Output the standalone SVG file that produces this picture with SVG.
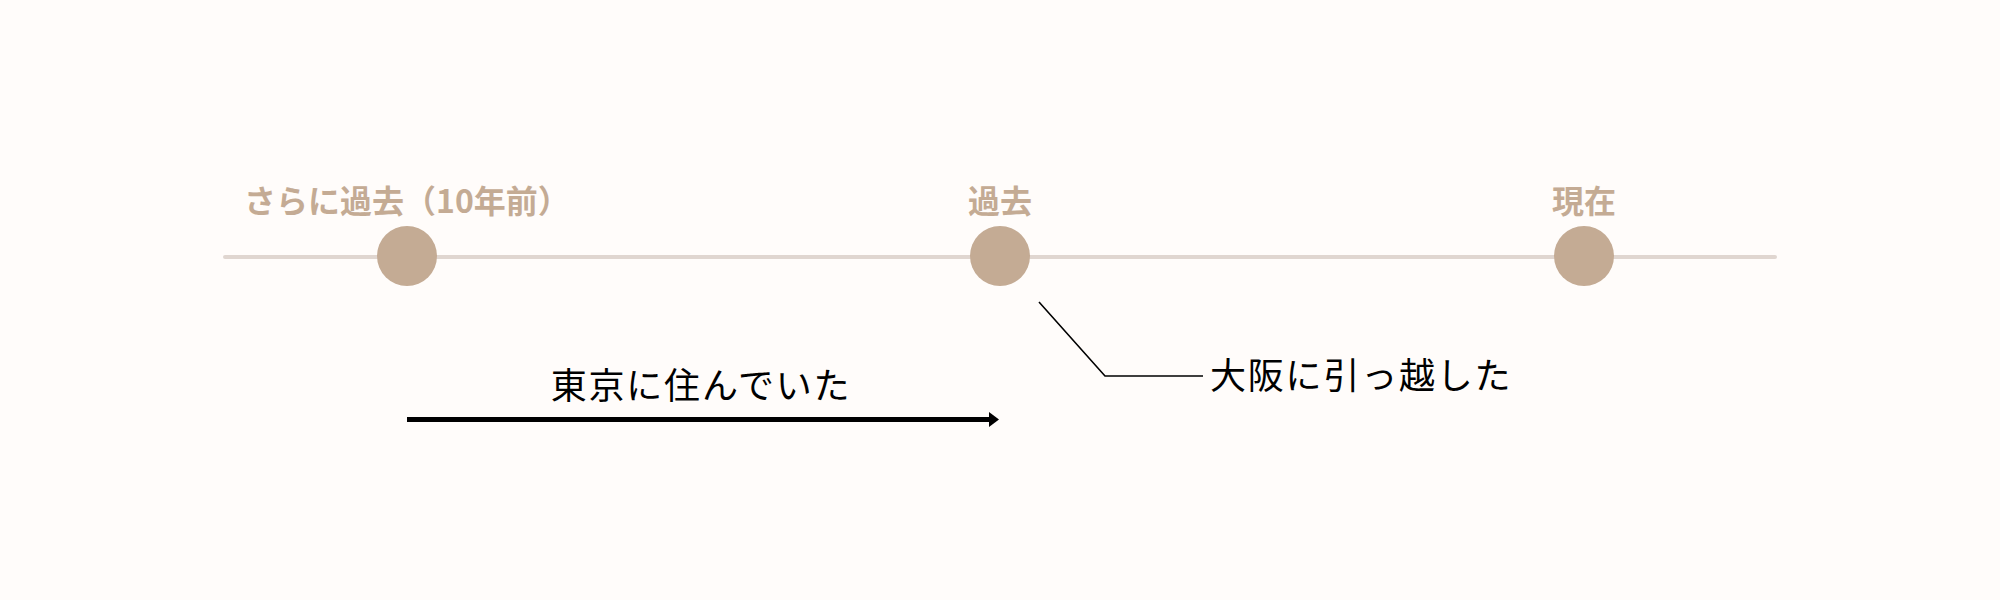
<svg xmlns="http://www.w3.org/2000/svg" width="2000" height="600" viewBox="0 0 2000 600">
  <defs>
    <style>
      .label { font-family: "Noto Sans CJK JP", "Noto Sans", sans-serif; font-weight: bold; font-size: 32px; fill: #c4ab94; text-anchor: middle; }
      .note { font-family: "Noto Sans CJK JP", "Noto Sans", sans-serif; font-size: 36px; fill: #000000; letter-spacing: 1.8px; }
      .dot { fill: #c4ab94; }
    </style>
    <marker id="arrow" viewBox="0 0 10 15" refX="0" refY="7.5" markerWidth="10" markerHeight="15" markerUnits="userSpaceOnUse" orient="auto">
      <path d="M0,0 L10,7.5 L0,15 Z" fill="#000000"/>
    </marker>
  </defs>
  <rect x="0" y="0" width="2000" height="600" fill="#fffcfa"/>
  <g id="timeline">
    <line x1="225" y1="257" x2="1775" y2="257" stroke="#e0d6d0" stroke-width="4" stroke-linecap="round"/>
  </g>
  <g id="node-past10">
    <circle class="dot" cx="407" cy="256" r="30"/>
    <text class="label" x="407" y="213">さらに過去（10年前）</text>
  </g>
  <g id="node-past">
    <circle class="dot" cx="1000" cy="256" r="30"/>
    <text class="label" x="1000" y="213">過去</text>
  </g>
  <g id="node-now">
    <circle class="dot" cx="1584" cy="256" r="30"/>
    <text class="label" x="1584" y="213">現在</text>
  </g>
  <g id="connectors">
    <line x1="407" y1="419.5" x2="989" y2="419.5" stroke="#000000" stroke-width="5" marker-end="url(#arrow)"/>
    <polyline points="1039,302 1105,376 1203,376" fill="none" stroke="#000000" stroke-width="1.6"/>
  </g>
  <g id="label-tokyo">
    <text class="note" x="701" y="399" text-anchor="middle">東京に住んでいた</text>
  </g>
  <g id="label-osaka">
    <text class="note" x="1210" y="389">大阪に引っ越した</text>
  </g>
</svg>
